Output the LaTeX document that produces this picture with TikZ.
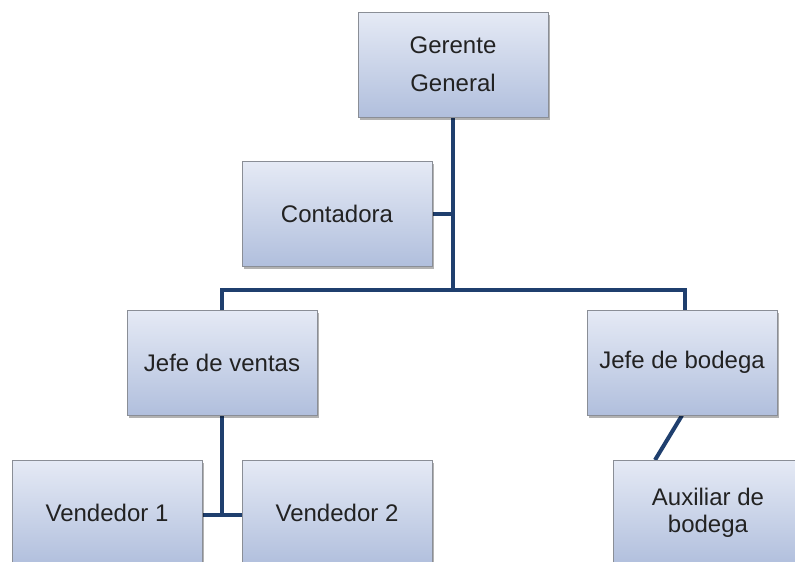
\documentclass[tikz,border=0pt]{standalone}
\usepackage{fontspec}
\setmainfont{Liberation Sans}
\usetikzlibrary{shadows,backgrounds}
\definecolor{boxtop}{HTML}{E5EAF5}
\definecolor{boxbot}{HTML}{B1BFDD}
\definecolor{boxline}{HTML}{8A8E96}
\definecolor{linec}{HTML}{1F3F6E}
\definecolor{textc}{HTML}{222222}
\begin{document}
\begin{tikzpicture}[x=1pt,y=-1pt,
  box/.style={rectangle, draw=boxline, line width=0.8pt, top color=boxtop, bottom color=boxbot,
    minimum width=190pt, minimum height=105pt, inner sep=0pt, align=center, text=textc,
    font=\fontsize{24}{27}\selectfont,
    drop shadow={shadow xshift=1.5pt, shadow yshift=-2.5pt, opacity=0.3, fill=black}},
  link/.style={draw=linec, line width=4pt}]
\clip (0,0) rectangle (795,562);
\node[box, font=\fontsize{24}{38}\selectfont] (gg) at (453,64.5) {Gerente\\General};
\node[box] (cont) at (337,213.5) {Contadora};
\node[box] (jv) at (222,362.5) {Jefe de ventas};
\node[box] (jb) at (682,362.5) {Jefe de bodega};
\node[box] (v1) at (107,512.5) {Vendedor 1};
\node[box] (v2) at (337,512.5) {Vendedor 2};
\node[box] (aux) at (708,512.5) {Auxiliar de\\bodega};
\coordinate (j1) at (453,290);
\coordinate (j2) at (222,515);
\coordinate (jbtop) at (685,310);
\coordinate (auxtop) at (655,460);
\begin{scope}[on background layer]
\draw[link] (gg.south) -- (j1);
\draw[link] (cont.east) -- (cont.east -| gg.south);
\draw[link] (jv.north) |- (j1) -| (jbtop);
\draw[link] (jv.south) -- (j2);
\draw[link] (v1.east |- j2) -- (v2.west |- j2);
\draw[link] (jb.south) -- (auxtop);
\end{scope}
\end{tikzpicture}
\end{document}
